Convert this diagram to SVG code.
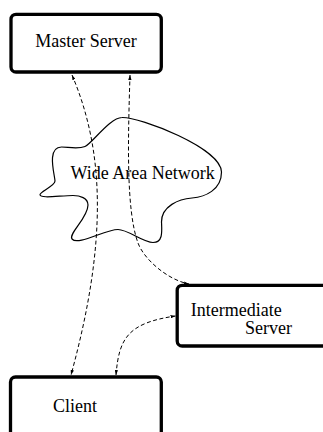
<svg xmlns="http://www.w3.org/2000/svg" width="323" height="432" viewBox="0 0 323 432">
  <style>
    .box { fill: #ffffff; stroke: #000000; stroke-width: 3.3; }
    .label { font-family: "Liberation Serif", "Times New Roman", serif; font-size: 18px; fill: #000000; }
    .cloud { fill: none; stroke: #000000; stroke-width: 1.2; }
    .link { fill: none; stroke: #000000; stroke-width: 1; stroke-dasharray: 4 2.5; }
  </style>
  <defs>
    <marker id="tip" viewBox="0 0 6 4" refX="6" refY="2" markerWidth="5" markerHeight="3.4" markerUnits="userSpaceOnUse" orient="auto-start-reverse">
      <path d="M0,0 L6,2 L0,4 Z" fill="#000000"/>
    </marker>
  </defs>

  <rect width="323" height="432" fill="#ffffff"/>

  <!-- wide area network cloud -->
  <g id="wan">
    <path class="cloud" d="M122,117.5
      C140,117 221,148 221.5,172
      C221.5,190 205,197 192,198
      C179,199 161.5,206 161.5,222
      C162,232 163,242.5 153,242.5
      C143,242.5 128,229.5 118,229.5
      C105,229.5 78,246 72,239
      C68,234 88,218 88,205
      C88,198 80,195.5 73,195.5
      C60,195.5 40,199 40,194.5
      C40,191.5 55,186 55,181
      C55,176 46,147 61.5,147
      C68,147 78,149.5 85,146.5
      C92,143.5 110,117.5 122,117.5 Z"/>
    <text class="label" x="70.5" y="179.3">Wide Area Network</text>
  </g>

  <!-- connectors -->
  <g id="connectors">
    <path class="link" d="M72,75 C104,150 108,240 71,375" marker-start="url(#tip)" marker-end="url(#tip)"/>
    <path class="link" d="M130,75 C128,140 126,210 138,243 C144,259.5 168,280 189,284" marker-start="url(#tip)" marker-end="url(#tip)"/>
    <path class="link" d="M116,375 C119,338 128,323 175.5,316" marker-start="url(#tip)" marker-end="url(#tip)"/>
  </g>

  <g id="master-server">
    <rect class="box" x="11" y="14.3" width="150.3" height="57.7" rx="5"/>
    <text class="label" x="86" y="47.3" text-anchor="middle">Master Server</text>
  </g>

  <g id="intermediate-server">
    <rect class="box" x="177.2" y="285.3" width="170" height="60.7" rx="5"/>
    <text class="label" x="190.7" y="315.8">Intermediate</text>
    <text class="label" x="245" y="334">Server</text>
  </g>

  <g id="client">
    <rect class="box" x="10.5" y="377" width="150.8" height="80" rx="5"/>
    <text class="label" x="53" y="411.7">Client</text>
  </g>
</svg>
